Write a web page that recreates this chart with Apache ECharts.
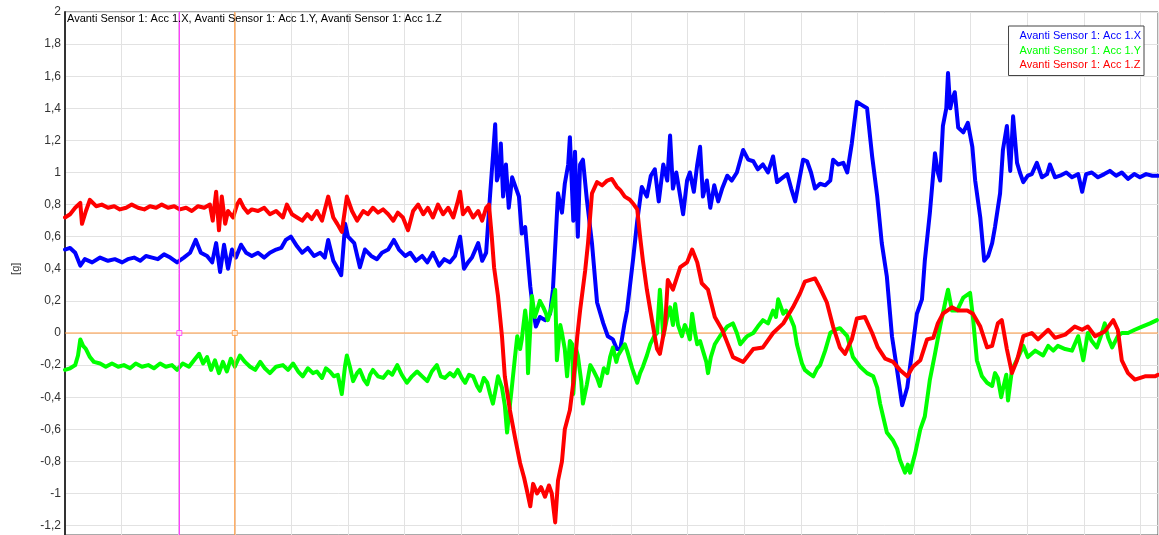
<!DOCTYPE html>
<html>
<head>
<meta charset="utf-8">
<title>Avanti Sensor 1</title>
<script src="https://cdn.jsdelivr.net/npm/echarts@6.0.0/dist/echarts.min.js"></script>
<style>
  html, body { margin: 0; padding: 0; background: #fff; }
  #chart { width: 1159px; height: 535px; }
</style>
</head>
<body>
<div id="chart"></div>
<script>
// Acceleration of the three axes of Avanti Sensor 1, in g, over time (s)
const seriesNames = ['Avanti Sensor 1: Acc 1.X', 'Avanti Sensor 1: Acc 1.Y', 'Avanti Sensor 1: Acc 1.Z'];
const seriesColors = ['#0000ff', '#00ff00', '#ff0000'];
const yTicks = { min: -1.2, max: 2, step: 0.2 };
const timeRange = { min: 0, max: 19.31, step: 1 };
const cursorTimes = [2.02, 3.0];

const tX = [0.00,0.09,0.18,0.27,0.35,0.48,0.62,0.76,0.88,1.01,1.11,1.22,1.33,1.43,1.54,1.64,1.75,1.86,1.98,2.10,2.21,2.31,2.40,2.51,2.60,2.67,2.74,2.81,2.88,2.95,3.02,3.11,3.20,3.30,3.41,3.52,3.62,3.73,3.82,3.90,3.99,4.10,4.19,4.29,4.40,4.51,4.59,4.65,4.74,4.82,4.88,4.95,5.00,5.11,5.21,5.30,5.41,5.51,5.60,5.71,5.81,5.90,6.01,6.10,6.20,6.31,6.40,6.50,6.61,6.70,6.80,6.89,6.98,7.05,7.12,7.19,7.30,7.37,7.44,7.51,7.56,7.60,7.63,7.67,7.70,7.74,7.79,7.84,7.90,7.97,8.02,8.07,8.13,8.18,8.22,8.27,8.32,8.39,8.48,8.57,8.62,8.67,8.71,8.78,8.83,8.89,8.92,8.98,9.01,9.06,9.10,9.15,9.22,9.31,9.40,9.51,9.59,9.68,9.75,9.81,9.88,9.93,10.04,10.11,10.19,10.28,10.35,10.42,10.49,10.57,10.64,10.69,10.74,10.80,10.87,10.92,10.99,11.04,11.11,11.17,11.22,11.27,11.34,11.40,11.47,11.54,11.61,11.70,11.78,11.87,11.98,12.07,12.16,12.24,12.33,12.42,12.51,12.58,12.65,12.76,12.83,12.90,12.97,13.04,13.11,13.18,13.25,13.34,13.43,13.52,13.57,13.66,13.75,13.82,13.90,13.99,14.08,14.17,14.26,14.35,14.43,14.52,14.61,14.70,14.79,14.88,14.96,15.05,15.14,15.19,15.28,15.37,15.42,15.46,15.51,15.57,15.60,15.64,15.67,15.72,15.78,15.87,15.95,16.03,16.08,16.17,16.24,16.31,16.38,16.43,16.52,16.57,16.64,16.70,16.75,16.82,16.87,16.93,17.01,17.08,17.17,17.26,17.35,17.40,17.49,17.58,17.69,17.79,17.90,17.97,18.04,18.14,18.25,18.36,18.46,18.57,18.67,18.78,18.89,18.99,19.10,19.21,19.31];
const accX = [0.52,0.53,0.50,0.42,0.46,0.44,0.47,0.45,0.46,0.44,0.46,0.47,0.45,0.48,0.47,0.46,0.49,0.47,0.44,0.47,0.50,0.58,0.50,0.48,0.44,0.56,0.38,0.55,0.40,0.52,0.47,0.55,0.50,0.48,0.50,0.47,0.50,0.52,0.53,0.58,0.60,0.54,0.50,0.53,0.48,0.50,0.47,0.58,0.45,0.40,0.36,0.68,0.60,0.56,0.41,0.52,0.48,0.46,0.50,0.52,0.58,0.52,0.48,0.50,0.45,0.48,0.44,0.50,0.42,0.46,0.44,0.48,0.60,0.40,0.44,0.47,0.56,0.45,0.50,0.86,1.10,1.30,0.95,1.00,1.18,0.85,1.05,0.78,0.97,0.90,0.85,0.62,0.66,0.45,0.29,0.14,0.04,0.10,0.08,0.12,0.27,0.60,0.87,0.75,0.93,1.05,1.22,0.70,1.13,0.60,1.05,1.08,0.83,0.56,0.19,0.06,-0.02,-0.04,-0.10,-0.10,0.05,0.14,0.47,0.70,0.91,0.85,0.98,1.02,0.82,1.05,0.95,1.23,0.90,1.00,0.85,0.74,0.95,1.00,0.88,1.05,1.16,0.85,0.95,0.78,0.92,0.82,0.90,0.98,0.95,1.00,1.14,1.08,1.07,1.02,1.05,1.00,1.10,0.94,0.96,0.99,0.90,0.82,0.95,1.08,1.07,1.00,0.90,0.93,0.92,0.95,1.08,1.05,1.06,1.00,1.18,1.44,1.42,1.40,1.10,0.85,0.56,0.35,-0.02,-0.23,-0.45,-0.34,-0.13,0.12,0.21,0.45,0.75,1.12,1.00,0.95,1.29,1.40,1.62,1.40,1.45,1.50,1.28,1.25,1.31,1.16,0.95,0.72,0.45,0.48,0.56,0.66,0.87,1.14,1.29,1.01,1.35,1.06,1.00,0.94,0.98,0.99,1.06,0.97,0.99,1.05,0.97,0.98,1.00,0.97,0.99,0.88,0.99,1.00,0.97,0.99,1.01,0.98,1.00,0.96,0.99,0.97,0.99,0.98,0.98];

const tY = [0.00,0.09,0.18,0.23,0.27,0.32,0.37,0.44,0.51,0.62,0.72,0.83,0.94,1.04,1.15,1.25,1.36,1.47,1.57,1.68,1.78,1.89,1.98,2.08,2.19,2.30,2.37,2.44,2.51,2.58,2.65,2.72,2.79,2.86,2.93,3.00,3.09,3.18,3.27,3.36,3.45,3.53,3.62,3.73,3.85,3.94,4.03,4.12,4.20,4.29,4.38,4.45,4.54,4.61,4.68,4.75,4.82,4.89,4.95,4.98,5.04,5.09,5.16,5.21,5.28,5.34,5.39,5.44,5.53,5.62,5.71,5.78,5.87,5.95,6.04,6.13,6.22,6.31,6.40,6.48,6.57,6.64,6.71,6.80,6.87,6.94,7.01,7.07,7.14,7.21,7.28,7.33,7.40,7.46,7.51,7.56,7.61,7.65,7.72,7.77,7.81,7.86,7.90,7.95,7.99,8.04,8.07,8.13,8.16,8.18,8.23,8.25,8.30,8.34,8.39,8.45,8.50,8.53,8.59,8.66,8.69,8.75,8.78,8.83,8.87,8.92,8.96,8.98,9.03,9.06,9.12,9.15,9.22,9.28,9.33,9.40,9.45,9.52,9.58,9.63,9.68,9.74,9.77,9.84,9.89,9.93,10.02,10.11,10.16,10.21,10.28,10.34,10.41,10.46,10.51,10.57,10.64,10.69,10.74,10.78,10.83,10.90,10.95,10.99,11.04,11.08,11.13,11.17,11.22,11.27,11.33,11.36,11.41,11.48,11.57,11.70,11.80,11.87,11.93,12.00,12.05,12.16,12.24,12.33,12.42,12.51,12.56,12.60,12.69,12.74,12.81,12.88,12.93,13.02,13.07,13.14,13.22,13.29,13.34,13.43,13.52,13.60,13.69,13.82,13.92,14.05,14.17,14.28,14.35,14.40,14.52,14.63,14.70,14.75,14.84,14.89,14.93,15.02,15.11,15.19,15.28,15.37,15.46,15.55,15.60,15.67,15.76,15.87,15.99,16.04,16.11,16.20,16.29,16.38,16.43,16.48,16.54,16.57,16.63,16.66,16.73,16.84,16.93,17.01,17.14,17.28,17.37,17.46,17.54,17.67,17.79,17.90,17.99,18.07,18.14,18.23,18.30,18.37,18.43,18.50,18.60,18.67,18.78,18.90,19.03,19.17,19.29];
const accY = [-0.23,-0.22,-0.20,-0.14,-0.04,-0.08,-0.10,-0.15,-0.18,-0.19,-0.21,-0.19,-0.21,-0.20,-0.22,-0.19,-0.21,-0.20,-0.22,-0.19,-0.21,-0.20,-0.23,-0.19,-0.21,-0.16,-0.13,-0.19,-0.15,-0.23,-0.17,-0.25,-0.18,-0.24,-0.16,-0.21,-0.14,-0.18,-0.21,-0.23,-0.18,-0.22,-0.25,-0.21,-0.20,-0.23,-0.19,-0.24,-0.27,-0.22,-0.25,-0.24,-0.28,-0.22,-0.24,-0.27,-0.26,-0.38,-0.20,-0.14,-0.22,-0.30,-0.25,-0.23,-0.29,-0.32,-0.26,-0.23,-0.27,-0.28,-0.24,-0.26,-0.20,-0.26,-0.31,-0.27,-0.24,-0.27,-0.30,-0.24,-0.20,-0.27,-0.28,-0.25,-0.27,-0.23,-0.28,-0.31,-0.26,-0.27,-0.33,-0.36,-0.28,-0.31,-0.38,-0.44,-0.35,-0.27,-0.34,-0.45,-0.62,-0.45,-0.32,-0.15,-0.02,-0.10,-0.04,0.14,0.05,-0.25,0.10,0.23,0.10,0.14,0.20,0.16,0.12,0.08,0.15,0.27,-0.17,0.05,0.00,-0.10,-0.27,-0.05,-0.07,-0.38,-0.10,-0.14,-0.30,-0.44,-0.32,-0.20,-0.23,-0.28,-0.33,-0.22,-0.25,-0.15,-0.09,-0.18,-0.14,-0.10,-0.07,-0.11,-0.22,-0.31,-0.25,-0.21,-0.14,-0.07,-0.02,0.00,0.27,-0.02,0.10,0.16,0.05,0.18,0.05,-0.02,0.05,0.02,-0.04,0.12,0.00,-0.07,-0.05,-0.11,-0.18,-0.25,-0.15,-0.07,-0.02,0.04,0.06,0.00,-0.07,-0.04,-0.02,0.00,0.04,0.08,0.06,0.14,0.10,0.21,0.12,0.14,0.10,0.04,-0.07,-0.19,-0.23,-0.25,-0.27,-0.22,-0.20,-0.11,0.00,0.02,0.03,-0.02,-0.15,-0.21,-0.25,-0.27,-0.34,-0.44,-0.62,-0.67,-0.72,-0.79,-0.87,-0.82,-0.87,-0.75,-0.60,-0.52,-0.29,-0.13,0.04,0.19,0.27,0.14,0.14,0.22,0.25,0.10,-0.17,-0.27,-0.31,-0.33,-0.25,-0.28,-0.40,-0.35,-0.26,-0.42,-0.23,-0.15,-0.08,-0.15,-0.11,-0.14,-0.08,-0.11,-0.08,-0.10,-0.11,-0.02,-0.17,0.00,-0.05,-0.09,-0.02,0.06,-0.03,-0.09,-0.02,0.00,0.00,0.02,0.04,0.06,0.08];

const tZ = [0.00,0.09,0.18,0.27,0.30,0.37,0.44,0.55,0.65,0.76,0.87,0.97,1.08,1.18,1.29,1.40,1.50,1.61,1.71,1.82,1.93,2.03,2.14,2.24,2.35,2.46,2.56,2.61,2.67,2.72,2.77,2.83,2.88,2.97,3.04,3.09,3.16,3.23,3.30,3.41,3.52,3.62,3.73,3.85,3.92,4.01,4.10,4.19,4.28,4.36,4.45,4.54,4.65,4.74,4.81,4.89,4.98,5.07,5.16,5.27,5.35,5.44,5.53,5.62,5.71,5.80,5.88,5.97,6.06,6.15,6.24,6.33,6.41,6.50,6.59,6.68,6.77,6.86,6.94,6.98,7.03,7.12,7.21,7.30,7.37,7.44,7.49,7.54,7.58,7.65,7.72,7.77,7.86,7.95,8.04,8.11,8.16,8.22,8.27,8.34,8.41,8.48,8.55,8.60,8.66,8.71,8.78,8.83,8.92,8.98,9.05,9.10,9.19,9.24,9.31,9.40,9.49,9.58,9.66,9.75,9.81,9.89,9.98,10.05,10.11,10.16,10.21,10.28,10.37,10.46,10.51,10.60,10.65,10.74,10.87,10.99,11.08,11.17,11.25,11.36,11.48,11.61,11.70,11.80,11.98,12.16,12.33,12.51,12.69,12.86,12.99,13.07,13.25,13.34,13.46,13.57,13.69,13.78,13.90,13.99,14.13,14.26,14.36,14.49,14.63,14.75,14.88,14.98,15.11,15.23,15.34,15.42,15.51,15.67,15.78,15.94,16.04,16.17,16.29,16.38,16.48,16.55,16.64,16.73,16.82,16.93,17.08,17.19,17.37,17.49,17.67,17.84,17.97,18.07,18.20,18.37,18.52,18.60,18.67,18.78,18.90,19.08,19.26,19.31];
const accZ = [0.72,0.74,0.78,0.81,0.68,0.76,0.83,0.79,0.80,0.78,0.79,0.77,0.78,0.80,0.78,0.77,0.79,0.78,0.80,0.78,0.79,0.77,0.78,0.76,0.79,0.78,0.80,0.70,0.88,0.64,0.85,0.68,0.76,0.72,0.80,0.83,0.78,0.75,0.77,0.76,0.78,0.74,0.76,0.72,0.80,0.74,0.72,0.70,0.74,0.71,0.76,0.70,0.85,0.72,0.68,0.63,0.85,0.76,0.70,0.76,0.74,0.78,0.75,0.77,0.74,0.70,0.75,0.72,0.64,0.76,0.80,0.74,0.78,0.72,0.80,0.74,0.78,0.72,0.82,0.88,0.74,0.78,0.72,0.76,0.70,0.78,0.80,0.60,0.41,0.23,-0.02,-0.27,-0.48,-0.65,-0.81,-0.90,-0.98,-1.08,-0.94,-1.00,-0.96,-1.02,-0.95,-1.00,-1.18,-0.92,-0.80,-0.60,-0.48,-0.31,-0.02,0.14,0.39,0.56,0.87,0.94,0.92,0.95,0.96,0.91,0.89,0.85,0.83,0.80,0.77,0.60,0.45,0.27,0.08,-0.10,-0.13,0.04,0.33,0.27,0.41,0.44,0.52,0.44,0.31,0.27,0.10,0.02,-0.06,-0.15,-0.18,-0.10,-0.09,0.00,0.06,0.16,0.25,0.32,0.34,0.28,0.19,0.04,-0.09,-0.13,-0.04,0.09,0.10,0.00,-0.09,-0.16,-0.18,-0.23,-0.27,-0.21,-0.17,-0.04,-0.03,0.06,0.12,0.16,0.14,0.14,0.12,0.04,-0.09,-0.08,0.06,0.08,-0.10,-0.25,-0.17,-0.02,0.00,-0.04,0.02,-0.03,-0.01,0.04,0.02,0.04,-0.02,0.01,0.08,0.02,-0.17,-0.25,-0.29,-0.27,-0.27,-0.26];

function zip(times, values, label) {
  if (times.length !== values.length) {
    throw new Error(label + ': ' + times.length + ' times vs ' + values.length + ' values');
  }
  return times.map((t, i) => [t, values[i]]);
}

const dataX = zip(tX, accX, 'X');
const dataY = zip(tY, accY, 'Y');
const dataZ = zip(tZ, accZ, 'Z');

// Decimal comma, as the acquisition software prints it
function fmtG(v) {
  const r = Math.round(v * 10) / 10;
  return (r === 0 ? '0' : String(r)).replace('.', ',');
}

const font = 'Liberation Sans, Arial, sans-serif';
const chart = echarts.init(document.getElementById('chart'), null, { renderer: 'canvas' });

const dataSeries = [dataX, dataY, dataZ].map((d, i) => ({
  name: seriesNames[i],
  type: 'line',
  xAxisIndex: 1,
  yAxisIndex: 1,
  data: d,
  showSymbol: false,
  symbol: 'none',
  smooth: false,
  lineStyle: { color: seriesColors[i], width: 4, join: 'round', cap: 'round' },
  itemStyle: { color: seriesColors[i] },
  z: 3
}));

const cursorColors = ['#ff33ff', '#ff9a40'];
const cursorFills = ['#ffe4ff', '#ffeedd'];

const cursorSeries = cursorTimes.map((t, i) => ({
  name: 'cursor' + i,
  type: 'line',
  xAxisIndex: 0,
  yAxisIndex: 0,
  data: [[t, 0], [t, 1]],
  showSymbol: false,
  symbol: 'none',
  lineStyle: { color: cursorColors[i], width: 1.2 },
  silent: true,
  z: 5
}));

const cursorMarks = cursorTimes.map((t, i) => ({
  name: 'cursorMark' + i,
  type: 'scatter',
  xAxisIndex: 1,
  yAxisIndex: 1,
  data: [[t, 0]],
  symbol: 'rect',
  symbolSize: 5,
  itemStyle: { color: cursorFills[i], borderColor: cursorColors[i], borderWidth: 1 },
  silent: true,
  z: 6
}));

const zeroLine = {
  name: 'zero',
  type: 'line',
  xAxisIndex: 1,
  yAxisIndex: 1,
  data: [[timeRange.min, 0], [timeRange.max, 0]],
  showSymbol: false,
  symbol: 'none',
  lineStyle: { color: '#ff9a40', width: 1.2 },
  silent: true,
  z: 2
};

chart.setOption({
  animation: false,
  backgroundColor: '#ffffff',
  textStyle: { fontFamily: font },
  title: {
    text: seriesNames.join(', '),
    left: 67,
    top: 13,
    padding: 0,
    textStyle: { fontFamily: font, fontSize: 11, fontWeight: 'normal', color: '#000000' }
  },
  legend: {
    orient: 'vertical',
    right: 15,
    top: 26,
    icon: 'none',
    itemWidth: 0,
    itemHeight: 14,
    itemGap: 2,
    padding: [3, 3, 5, 6],
    borderColor: '#444444',
    borderWidth: 1,
    backgroundColor: '#ffffff',
    selectedMode: false,
    textStyle: { fontFamily: font, fontSize: 11 },
    data: seriesNames.map((n, i) => ({ name: n, textStyle: { color: seriesColors[i] } }))
  },
  grid: [
    { left: 65, right: 1, top: 12, bottom: 0, show: true, borderColor: '#555555', borderWidth: 1, backgroundColor: 'transparent' },
    { left: 65, right: 1, top: 12, bottom: 9.4 }
  ],
  xAxis: [
    {
      gridIndex: 0, type: 'value',
      min: timeRange.min, max: timeRange.max, interval: timeRange.step,
      axisLabel: { show: false }, axisTick: { show: false }, axisLine: { show: false },
      splitLine: { show: true, lineStyle: { color: '#e2e2e2', width: 1 } }
    },
    {
      gridIndex: 1, type: 'value',
      min: timeRange.min, max: timeRange.max, show: false,
      splitLine: { show: false }
    }
  ],
  yAxis: [
    {
      gridIndex: 0, type: 'value', min: 0, max: 1,
      axisLabel: { show: false }, axisTick: { show: false }, splitLine: { show: false },
      axisLine: { show: true, lineStyle: { color: '#333333', width: 2 } }
    },
    {
      gridIndex: 1, type: 'value',
      min: yTicks.min, max: yTicks.max, interval: yTicks.step,
      name: '[g]', nameLocation: 'middle', nameGap: 44, nameRotate: 90,
      nameTextStyle: { fontFamily: font, fontSize: 11, color: '#333333' },
      axisLine: { show: false }, axisTick: { show: false },
      axisLabel: { formatter: fmtG, fontFamily: font, fontSize: 12, color: '#333333', margin: 4 },
      splitLine: { show: true, lineStyle: { color: '#e2e2e2', width: 1 } }
    }
  ],
  series: [zeroLine].concat(dataSeries, cursorSeries, cursorMarks)
});
</script>
</body>
</html>
